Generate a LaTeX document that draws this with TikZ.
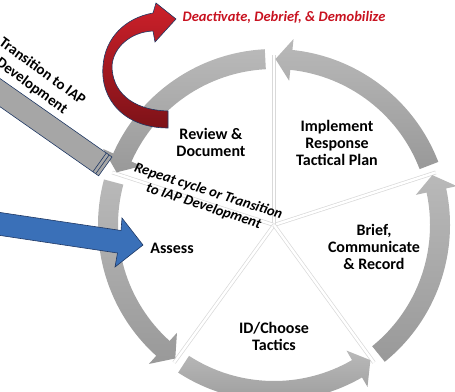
\documentclass[tikz,border=0pt]{standalone}
\usepackage{fontspec}
\setmainfont{Carlito}
\usepackage{xcolor}
\usepackage{tikz}

\definecolor{navyline}{RGB}{31,56,100}
\definecolor{demobred}{RGB}{200,18,32}
\definecolor{redtop}{RGB}{205,32,42}
\definecolor{redbot}{RGB}{125,18,24}
\definecolor{assessblue}{RGB}{58,112,184}
\definecolor{bargray}{RGB}{166,166,166}

\begin{document}
\begin{tikzpicture}[x=1pt,y=-1pt,
    phase/.style={font=\fontsize{16}{17}\selectfont\bfseries, align=center, inner sep=0pt},
    sepline/.style={draw=gray!30, double=white, double distance=2.4pt, line width=0.7pt},
    ringarrow/.style={top color=gray!55, bottom color=gray!80},
    ribbon/.style={draw=navyline, line width=0.6pt, top color=redtop, bottom color=redbot}]
\useasboundingbox (0,0) rectangle (455,391);
\clip (0,0) rectangle (455,391);

% the cycle
\coordinate (c) at (274,225);
\begin{scope}[shift={(c)}]
  \foreach \a in {18,90,162,234,306}
    \draw[sepline] (0,0) -- (-\a:170);
  \foreach \a in {18,90,162,234,306}
    \shade[ringarrow] (-\a-3:176) arc[start angle=-\a-3, end angle=-\a-66, radius=176]
      -- (-\a-66:187) -- (-\a-71.5:166) -- (-\a-66:145) -- (-\a-66:156)
      arc[start angle=-\a-66, end angle=-\a-3, radius=156] -- cycle;
\end{scope}

% way out to the left
\filldraw[fill=bargray, draw=navyline, line width=0.6pt]
  (-10.9,70.9) -- (112,157) -- (98.6,175.8) -- (-24.3,89.7) -- cycle;
\draw[navyline, line width=0.6pt] (109.1,155) -- (95.7,173.8);
\draw[navyline, line width=0.6pt] (106.3,153) -- (92.9,171.8);

% entry arrow
\filldraw[fill=assessblue, draw=navyline, line width=0.6pt]
  (-5,211.7) -- (121,230.5) -- (122,218) -- (143,245) -- (115,267) -- (117.5,253) -- (-5,234.7) -- cycle;

% curved exit arrow
\shade[ribbon] (168,111) -- (168,128) .. controls (125,128) and (100,100) .. (103,66)
  .. controls (105,38) and (125,18) .. (153,13) -- (156,3) -- (176,19) -- (155,42) -- (153,31)
  .. controls (130,32) and (113,48) .. (112,66) .. controls (112,90) and (130,110) .. (168,111) -- cycle;

\node[phase] (review) at (211,142) {Review \&\\Document};
\node[phase] (implement) at (337,143) {Implement\\Response\\Tactical Plan};
\node[phase] (brief) at (374,247) {Brief,\\Communicate\\\& Record};
\node[phase] (choose) at (274,336) {ID/Choose\\Tactics};
\node[phase] (assess) at (172,248) {Assess};
\node[phase, font=\fontsize{14.5}{15.5}\selectfont\bfseries\itshape, rotate=-18] (repeat) at (206,199)
  {Repeat cycle or Transition\\to IAP Development};
\node[phase, font=\fontsize{15}{18}\selectfont\bfseries, rotate=-36] (transition) at (37,79)
  {Transition to IAP\\Development};
\node[font=\fontsize{14.5}{16}\selectfont\bfseries\itshape, text=demobred, inner sep=0pt] (demob) at (284,17)
  {Deactivate, Debrief, \& Demobilize};
\end{tikzpicture}
\end{document}
